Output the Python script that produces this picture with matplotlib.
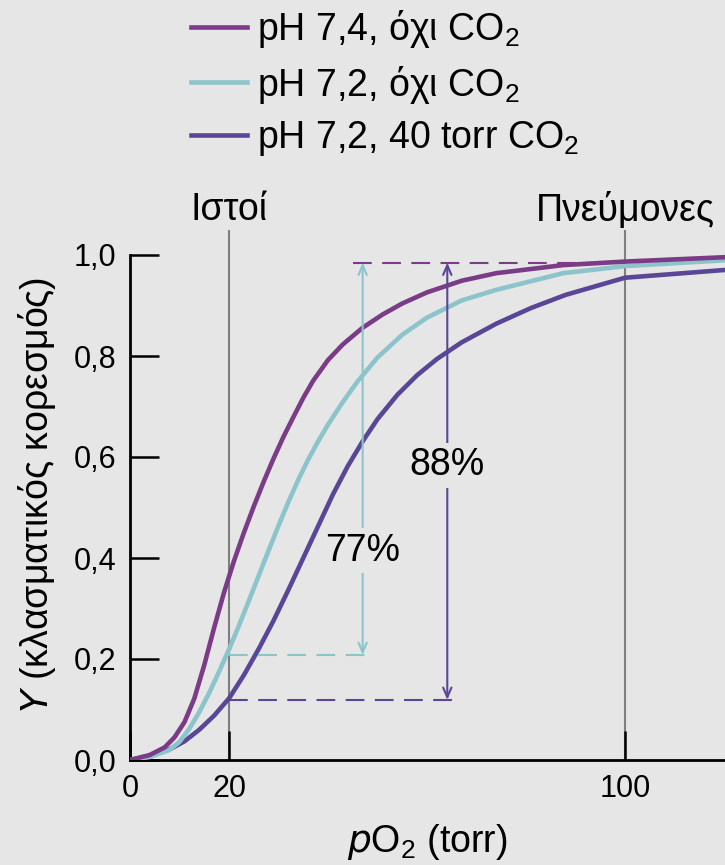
#!/usr/bin/env python3
"""Oxygen saturation curves of haemoglobin at tissue and lung pO2."""

import matplotlib

matplotlib.use("Agg")
import matplotlib.pyplot as plt  # noqa: I001

plt.rcParams["font.family"] = ["Liberation Sans", "DejaVu Sans"]
plt.rcParams["mathtext.default"] = "regular"

BG = "#e6e6e6"
PURPLE = "#7a3c87"
TEAL = "#8cc4cc"
INDIGO = "#5a4696"
GUIDE = "#7f7f7f"

# pH 7.4, no CO2
po2_a = [0, 4, 7, 9, 11, 13, 15, 17, 19, 21, 23, 25, 27, 29, 31, 33, 35, 37, 40, 43,
         47, 51, 55, 60, 67, 74, 87.5, 100, 121]
sat_a = [0, 0.010, 0.025, 0.045, 0.075, 0.122, 0.188, 0.262, 0.332, 0.394, 0.450, 0.502,
         0.551, 0.597, 0.640, 0.679, 0.717, 0.751, 0.792, 0.823, 0.856, 0.882, 0.904,
         0.926, 0.949, 0.964, 0.980, 0.987, 0.996]

# pH 7.2, no CO2
po2_b = [0, 4, 8, 10, 12, 14, 16, 18, 20, 22, 24, 26, 28, 30, 32, 34, 36, 38, 40, 43,
         46, 50, 55, 60, 67, 74, 87.5, 100, 121]
sat_b = [0, 0.006, 0.020, 0.036, 0.062, 0.095, 0.133, 0.175, 0.219, 0.266, 0.315, 0.365,
         0.415, 0.464, 0.511, 0.555, 0.595, 0.631, 0.664, 0.709, 0.750, 0.797, 0.842,
         0.876, 0.910, 0.931, 0.964, 0.978, 0.990]

# pH 7.2, 40 torr CO2
po2_c = [0, 4, 8, 11, 14, 17, 20, 23, 26, 29, 32, 35, 38, 41, 44, 47, 50, 54, 58, 62,
         67, 74, 81, 88, 100, 121]
sat_c = [0, 0.008, 0.021, 0.037, 0.060, 0.088, 0.122, 0.168, 0.220, 0.276, 0.337, 0.400,
         0.463, 0.526, 0.582, 0.631, 0.675, 0.723, 0.762, 0.794, 0.827, 0.864, 0.895,
         0.921, 0.955, 0.971]

series_labels = [
    "pH 7,4, όχι CO$_2$",
    "pH 7,2, όχι CO$_2$",
    "pH 7,2, 40 torr CO$_2$",
]

y_ticks = [0.0, 0.2, 0.4, 0.6, 0.8, 1.0]
y_tick_labels = ["0,0", "0,2", "0,4", "0,6", "0,8", "1,0"]
x_ticks = [0, 20, 100]

po2_tissue = 20
po2_lung = 100
sat_top = 0.985
sat_tissue_b = 0.208
sat_tissue_c = 0.119
arrow_x_b = 47.0
arrow_x_c = 64.1

TEXT_SIZE = 27
TICK_SIZE = 22


def main() -> None:
    fig = plt.figure(figsize=(7.25, 8.65), dpi=100, facecolor=BG)
    ax = fig.add_axes([130 / 725, 1 - 760 / 865, 595 / 725, 530 / 865])
    ax.set_facecolor(BG)

    ax.axvline(po2_tissue, color=GUIDE, lw=1.5, zorder=1)
    ax.axvline(po2_lung, color=GUIDE, lw=1.5, zorder=1)

    line_a, = ax.plot(po2_a, sat_a, color=PURPLE, lw=3.3, solid_joinstyle="round", zorder=4)
    line_b, = ax.plot(po2_b, sat_b, color=TEAL, lw=3.3, solid_joinstyle="round", zorder=3)
    line_c, = ax.plot(po2_c, sat_c, color=INDIGO, lw=3.3, solid_joinstyle="round", zorder=2)

    # saturation levels at the lungs and in the tissues
    dash = (0, (9, 5))
    ax.plot([45, po2_lung], [sat_top, sat_top], color=PURPLE, lw=1.5, ls=dash, zorder=2)
    ax.plot([po2_tissue, 49], [sat_tissue_b, sat_tissue_b], color=TEAL, lw=1.5, ls=dash, zorder=2)
    ax.plot([po2_tissue, 66], [sat_tissue_c, sat_tissue_c], color=INDIGO, lw=1.5, ls=dash, zorder=2)

    for x, low, colour in [(arrow_x_b, sat_tissue_b, TEAL), (arrow_x_c, sat_tissue_c, INDIGO)]:
        ax.annotate(
            "",
            xy=(x, low),
            xytext=(x, sat_top),
            arrowprops=dict(
                arrowstyle="<->,head_length=0.7,head_width=0.3",
                color=colour,
                lw=1.5,
                shrinkA=0,
                shrinkB=0,
            ),
            zorder=5,
        )

    label_box = dict(boxstyle="square,pad=0.12", fc=BG, ec="none")
    ax.text(arrow_x_b, 0.414, "77%", ha="center", va="center", fontsize=TEXT_SIZE,
            zorder=6, bbox=label_box)
    ax.text(arrow_x_c, 0.584, "88%", ha="center", va="center", fontsize=TEXT_SIZE,
            zorder=6, bbox=label_box)

    ax.text(po2_tissue, 1.089, "Ιστοί", ha="center", va="center", fontsize=TEXT_SIZE,
            clip_on=False)
    ax.text(po2_lung, 1.089, "Πνεύμονες", ha="center", va="center", fontsize=TEXT_SIZE,
            clip_on=False)

    ax.set_xlim(0, 595 / 4.95)
    ax.set_ylim(0, 530 / 505)
    ax.set_xticks(x_ticks)
    ax.set_xticklabels([str(t) for t in x_ticks])
    ax.set_yticks(y_ticks)
    ax.set_yticklabels(y_tick_labels)
    ax.tick_params(direction="in", length=21, width=1.8, pad=10, labelsize=TICK_SIZE,
                   color="black")

    for side in ("top", "right"):
        ax.spines[side].set_visible(False)
    ax.spines["left"].set_bounds(0, 1)
    for side in ("left", "bottom"):
        ax.spines[side].set_linewidth(2)

    ax.set_xlabel("$\\mathit{p}$O$_2$ (torr)", fontsize=TEXT_SIZE, labelpad=13)
    ax.set_ylabel("$\\mathit{Y}$ (κλασματικός κορεσμός)", fontsize=TEXT_SIZE, labelpad=11)

    fig.legend(
        [line_a, line_b, line_c],
        series_labels,
        loc="upper left",
        bbox_to_anchor=(191 / 725, 1 - 8 / 865),
        frameon=False,
        fontsize=TEXT_SIZE,
        handlelength=1.5,
        handletextpad=0.27,
        labelspacing=0.36,
        borderpad=0,
        borderaxespad=0,
    )

    fig.savefig("out.png", dpi=100, facecolor=BG)
    plt.close(fig)


if __name__ == "__main__":
    main()
